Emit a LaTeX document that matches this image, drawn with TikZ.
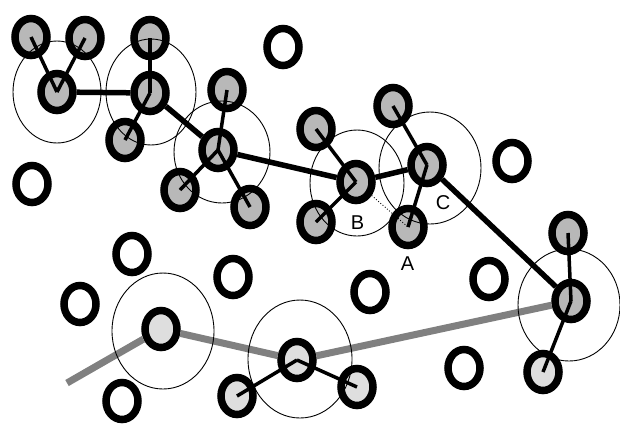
\documentclass[tikz,border=0pt]{standalone}
\usepackage{fontspec}
\setmainfont{Liberation Sans}
\usetikzlibrary{shapes.geometric}
\definecolor{darkfill}{RGB}{184,184,184}
\definecolor{lightfill}{RGB}{222,222,222}
\definecolor{pathgray}{RGB}{128,128,128}
\tikzset{
  atom/.style={ellipse, draw=black, line width=7.5pt, minimum width=32pt, minimum height=37pt, inner sep=0pt},
  darkatom/.style={atom, fill=darkfill},
  lightatom/.style={atom, fill=lightfill},
  emptyatom/.style={atom, fill=white},
  member/.style={line width=3.5pt, black},
  bigpath/.style={line width=5.5pt, black},
  graypath/.style={line width=7pt, pathgray},
  zone/.style={draw=black, line width=0.9pt},
  lab/.style={font=\fontsize{20}{20}\selectfont, inner sep=0pt}
}
\begin{document}
\begin{tikzpicture}[x=1pt,y=-1pt]
\useasboundingbox (0,0) rectangle (620,424);
% dark gray atoms
\node[darkatom] (n1) at (31,37) {};
\node[darkatom] (n2) at (85,38) {};
\node[darkatom] (c1) at (57,92) {};
\node[darkatom] (n3) at (150,38) {};
\node[darkatom] (c2) at (150,93) {};
\node[darkatom] (n4) at (125,140) {};
\node[darkatom] (n5) at (227,90) {};
\node[darkatom] (c3) at (218,150) {};
\node[darkatom] (n6) at (180,190) {};
\node[darkatom] (n7) at (250,207) {};
\node[darkatom] (n8) at (316,129) {};
\node[darkatom] (cB) at (356,182) {};
\node[darkatom] (n9) at (316,222) {};
\node[darkatom] (n10) at (393,106) {};
\node[darkatom] (cC) at (427,165) {};
\node[darkatom] (nA) at (408,227) {};
\node[darkatom] (n11) at (568,233) {};
\node[darkatom] (cR) at (571,301) {};
% light gray atoms
\node[lightatom] (nL) at (543,372) {};
\node[lightatom] (g1) at (161,329) {};
\node[lightatom] (g2) at (297,360) {};
\node[lightatom] (n12) at (237,396) {};
\node[lightatom] (n13) at (357,387) {};
% empty atoms
\node[emptyatom] (e1) at (283,47) {};
\node[emptyatom] (e2) at (32,184) {};
\node[emptyatom] (e3) at (512,161) {};
\node[emptyatom] (e4) at (132,254) {};
\node[emptyatom] (e5) at (80,304) {};
\node[emptyatom] (e6) at (233,277) {};
\node[emptyatom] (e7) at (370,292) {};
\node[emptyatom] (e8) at (489,279) {};
\node[emptyatom] (e9) at (122,401) {};
\node[emptyatom] (e10) at (464,368) {};
\coordinate (gstart) at (67,383);
% cluster-to-cluster paths
\draw[bigpath] (c1) -- (c2);
\draw[bigpath] (c2) -- (c3);
\draw[bigpath] (c3) -- (cB);
\draw[bigpath] (cB) -- (cC);
\draw[bigpath] (cC) -- (cR);
\draw[graypath] (gstart) -- (g1);
\draw[graypath] (g1) -- (g2);
\draw[graypath] (g2) -- (cR);
% member links
\draw[member] (n1.center) -- (c1.center);
\draw[member] (n2.center) -- (c1.center);
\draw[member] (n3.center) -- (c2.center);
\draw[member] (n4.center) -- (c2.center);
\draw[member] (n5.center) -- (c3.center);
\draw[member] (n6.center) -- (c3.center);
\draw[member] (n7.center) -- (c3.center);
\draw[member] (n8.center) -- (cB.center);
\draw[member] (n9.center) -- (cB.center);
\draw[member] (n10.center) -- (cC.center);
\draw[member] (nA.center) -- (cC.center);
\draw[member] (n11.center) -- (cR.center);
\draw[member] (nL.center) -- (cR.center);
\draw[member] (n12.center) -- (g2.center);
\draw[member] (n13.center) -- (g2.center);
\draw[black, line width=0.9pt, dotted] (cB) -- (nA.center);
% zones
\node[zone, ellipse, minimum width=88pt, minimum height=102pt] (z1) at (57,92) {};
\node[zone, ellipse, minimum width=90pt, minimum height=106pt] (z2) at (151,92) {};
\node[zone, ellipse, minimum width=96pt, minimum height=102pt] (z3) at (222,152) {};
\node[zone, ellipse, minimum width=94pt, minimum height=106pt] (z4) at (357,183) {};
\node[zone, ellipse, minimum width=102pt, minimum height=112pt] (z5) at (430,168) {};
\node[zone, ellipse, minimum width=102pt, minimum height=112pt] (z6) at (569,305) {};
\node[zone, ellipse, minimum width=102pt, minimum height=116pt] (z7) at (163,331) {};
\node[zone, ellipse, minimum width=104pt, minimum height=118pt] (z8) at (300,359) {};
% labels
\node[lab] (lB) at (357.5,222.5) {B};
\node[lab] (lA) at (407.5,264) {A};
\node[lab] (lC) at (443,203) {C};
\end{tikzpicture}
\end{document}
